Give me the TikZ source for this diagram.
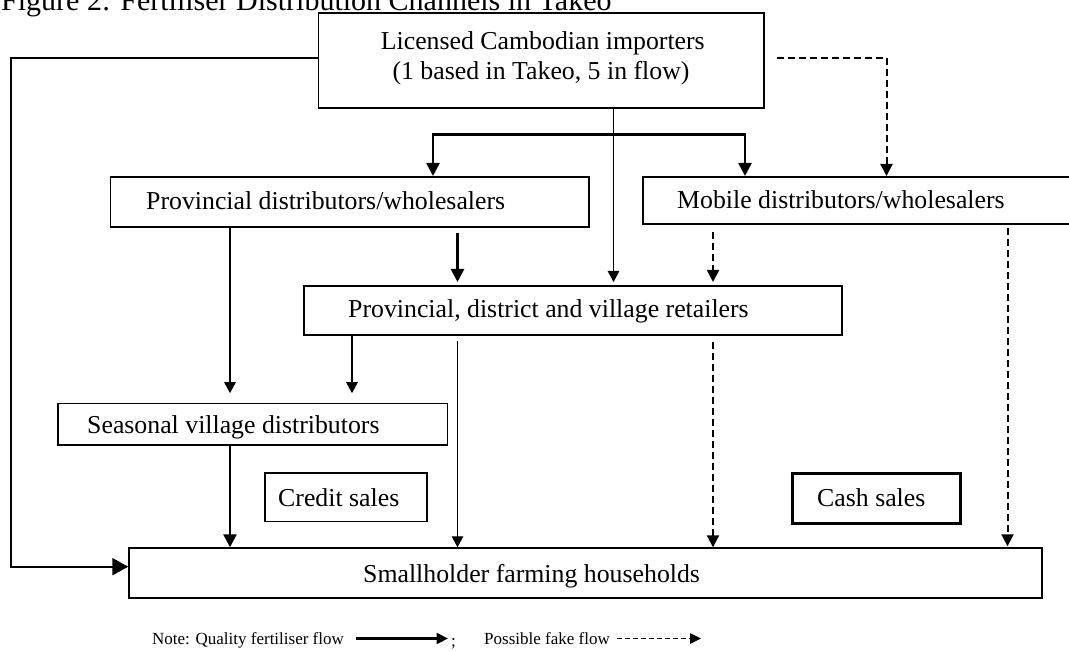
\documentclass[tikz,border=0pt]{standalone}
\usepackage{fontspec}
\setmainfont{Liberation Serif}
\usetikzlibrary{arrows.meta}
\tikzset{
  box/.style={draw, line width=1.6pt, rectangle, inner sep=0pt, anchor=north west},
  txt/.style={font=\fontsize{25.8}{28}\selectfont, inner sep=0pt, anchor=base west},
  legtxt/.style={font=\fontsize{17}{19}\selectfont, inner sep=0pt, anchor=base west},
  thinflow/.style={line width=1.1pt, -{Triangle[length=11pt,width=11.5pt]}},
  boldflow/.style={line width=2.6pt, -{Triangle[length=13pt,width=13pt]}},
  fakeflow/.style={line width=2pt, dash pattern=on 7pt off 4pt, -{Triangle[length=12pt,width=12pt]}},
}
\begin{document}
\begin{tikzpicture}[x=1pt,y=-1pt]
\useasboundingbox (0,0) rectangle (1069,652);
\clip (0,0) rectangle (1069,652);
% title
\node[inner sep=0pt, anchor=base west, font=\fontsize{30}{34}\selectfont] (title) at (1,11) {Figure 2: Fertiliser Distribution Channels in Takeo};
% boxes
\node[box, minimum width=445.5pt, minimum height=95pt] (imp) at (317.5,12.3) {};
\node[box, minimum width=478.5pt, minimum height=50pt] (prov) at (109.5,176) {};
\node[box, minimum width=440pt, minimum height=47.3pt] (mob) at (642,176) {};
\node[box, minimum width=538pt, minimum height=49.3pt] (retail) at (303,285) {};
\node[box, minimum width=389.6pt, minimum height=41.6pt] (seas) at (57,402.7) {};
\node[box, minimum width=162pt, minimum height=48.4pt] (credit) at (264,472.3) {};
\node[box, line width=2.8pt, minimum width=168.3pt, minimum height=50.3pt] (cash) at (790.7,472) {};
\node[box, minimum width=912.7pt, minimum height=50pt] (farm) at (128.3,547.3) {};
% texts
\node[txt, anchor=base] (impa) at (542.8,50) {Licensed Cambodian importers};
\node[txt, anchor=base] (impb) at (541,80) {(1 based in Takeo, 5 in flow)};
\node[txt] (provt) at (146,210) {Provincial distributors/wholesalers};
\node[txt] (mobt) at (677,208.3) {Mobile distributors/wholesalers};
\node[txt] (retailt) at (348,317.3) {Provincial, district and village retailers};
\node[txt] (seast) at (87,434) {Seasonal village distributors};
\node[txt] (creditt) at (278,506.7) {Credit sales};
\node[txt] (casht) at (817,506.7) {Cash sales};
\node[txt] (farmt) at (363,582.3) {Smallholder farming households};
% helper coordinates
\coordinate (xc) at (613.5,0);
\coordinate (jl) at (433,134.3);
\coordinate (jr) at (745,134.3);
\coordinate (ytop) at (0,58.3);
\coordinate (dx) at (886.5,0);
\coordinate (xleft) at (11.4,0);
\coordinate (yarr) at (0,566.7);
\coordinate (xpr) at (457.5,0);
\coordinate (xmr) at (713,0);
\coordinate (xmf) at (1007.5,0);
\coordinate (xps) at (230,0);
\coordinate (xrs) at (352,0);
% connectors
\draw[thinflow, shorten >=3pt] (imp.south -| xc) -- (retail.north -| xc);
\draw[line width=2.6pt, {Triangle[length=13pt,width=13pt]}-{Triangle[length=13pt,width=13pt]}]
  (prov.north -| jl) -- (jl) -- (jr) -- (mob.north -| jr);
\draw[fakeflow, shorten <=12pt] (imp.east |- ytop) -| (mob.north -| dx);
\draw[line width=2pt, -{Triangle[length=16pt,width=17pt]}]
  (imp.west |- ytop) -- (xleft |- ytop) -- (xleft |- yarr) -- (farm.west |- yarr);
\draw[boldflow, shorten <=5pt, shorten >=3pt] (prov.south -| xpr) -- (retail.north -| xpr);
\draw[fakeflow, shorten <=6.7pt, shorten >=3pt] (mob.south -| xmr) -- (retail.north -| xmr);
\draw[fakeflow, shorten <=3.5pt, shorten >=1pt] (mob.south -| xmf) -- (farm.north -| xmf);
\draw[thinflow, shorten >=9.5pt] (prov.south -| xps) -- (seas.north -| xps);
\draw[thinflow, shorten >=9.5pt] (retail.south -| xrs) -- (seas.north -| xrs);
\draw[boldflow] (seas.south -| xps) -- (farm.north -| xps);
\draw[thinflow, shorten <=4.7pt] (retail.south -| xpr) -- (farm.north -| xpr);
\draw[fakeflow, shorten <=5.7pt] (retail.south -| xmr) -- (farm.north -| xmr);
% legend
\node[legtxt] (leg1) at (152,644) {Note: Quality fertiliser flow};
\coordinate (la) at (356,638.5);
\coordinate (lb) at (448,638.5);
\draw[line width=2.2pt, -{Triangle[length=11.5pt,width=11pt]}] (la) -- (lb);
\node[legtxt] (semi) at (451,646) {;};
\node[legtxt] (leg2) at (484,644) {Possible fake flow};
\coordinate (lc) at (617,638.5);
\coordinate (ld) at (701,638.5);
\draw[line width=1.7pt, dash pattern=on 5pt off 3pt, -{Triangle[length=11pt,width=10.5pt]}] (lc) -- (ld);
\end{tikzpicture}
\end{document}
